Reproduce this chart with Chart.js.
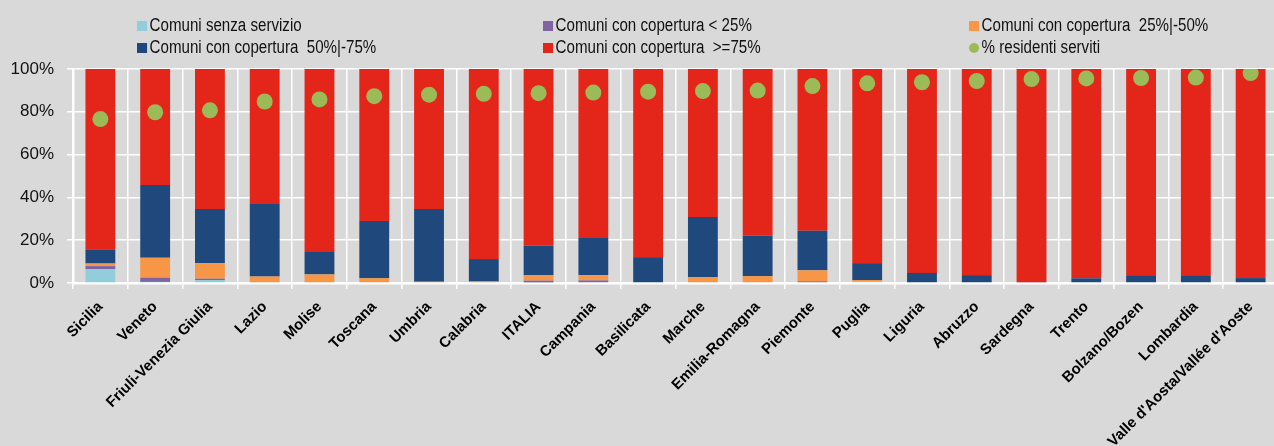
<!DOCTYPE html>
<html>
<head>
<meta charset="utf-8">
<script src="https://cdn.jsdelivr.net/npm/chart.js@4.4.1/dist/chart.umd.min.js"></script>
<style>
  html, body { margin: 0; padding: 0; background: #d9d9d9; overflow: hidden; }
  #wrap { position: relative; width: 1274px; height: 446px; overflow: hidden; }
  #chart { position: absolute; left: 0; top: 0; }
  .leg { position: absolute; font-family: "Liberation Sans", Arial, sans-serif; font-size: 18px; color: #111; white-space: pre; line-height: 20px; transform: scaleX(0.84); transform-origin: 0 0; }
  .leg span.box { display: inline-block; width: 12px; height: 10px; margin-right: 3px; vertical-align: 0px; }
  .leg span.dot { display: inline-block; width: 12px; height: 10px; border-radius: 50%; margin-right: 3px; vertical-align: 0px; }
</style>
</head>
<body>
<div id="wrap">
  <canvas id="chart" width="1286" height="446"></canvas>
</div>
<script>
const categories = ["Sicilia", "Veneto", "Friuli-Venezia Giulia", "Lazio", "Molise", "Toscana", "Umbria",
  "Calabria", "ITALIA", "Campania", "Basilicata", "Marche", "Emilia-Romagna", "Piemonte", "Puglia",
  "Liguria", "Abruzzo", "Sardegna", "Trento", "Bolzano/Bozen", "Lombardia", "Valle d'Aosta/Vallée d'Aoste"];

const senzaServizio = [6.4, 0.5, 1.4, 0, 0, 0, 0, 0, 0.3, 0, 0, 0, 0, 0, 0.6, 0, 0, 0, 0, 0, 0, 0];
const copLt25 = [1.5, 2.0, 0.6, 0, 0, 0, 0, 0, 0.8, 1.2, 0, 0, 0, 0.8, 0, 0, 0, 0, 0, 0, 0, 0];
const cop25_50 = [1.2, 9.3, 7.2, 3.0, 4.0, 2.2, 0.6, 0.7, 2.5, 2.5, 0, 2.8, 3.2, 5.1, 0.8, 0, 0, 0, 0, 0, 0, 0];
const cop50_75 = [6.6, 34.0, 25.4, 33.9, 10.5, 26.8, 34.0, 10.5, 13.8, 17.3, 12.1, 28.0, 18.9, 18.5, 7.9, 4.7, 3.7, 0.4, 2.2, 3.3, 3.3, 2.3];
const copGe75 = [84.3, 54.2, 65.4, 63.1, 85.5, 71.0, 65.4, 88.8, 82.6, 79.0, 87.9, 69.2, 77.9, 75.6, 90.7, 95.3, 96.3, 99.6, 97.8, 96.7, 96.7, 97.7];
const residentiServiti = [76.6, 79.8, 80.7, 84.8, 85.8, 87.3, 88.0, 88.4, 88.7, 89.0, 89.4, 89.7, 89.9, 92.0, 93.3, 93.8, 94.4, 95.3, 95.6, 95.8, 96.0, 98.1];

const yTicks = [0, 20, 40, 60, 80, 100];

const fontName = '"Liberation Sans", Arial, sans-serif';

function barSet(label, data, color) {
  return {
    type: 'bar',
    label: label,
    data: data,
    backgroundColor: color,
    borderWidth: 0,
    barPercentage: 0.545,
    categoryPercentage: 1,
    stack: 's',
    order: 1
  };
}

const datasets = [
  barSet("Comuni senza servizio", senzaServizio, '#92cddc'),
  barSet("Comuni con copertura < 25%", copLt25, '#8064a2'),
  barSet("Comuni con copertura  25%|-50%", cop25_50, '#f79646'),
  barSet("Comuni con copertura  50%|-75%", cop50_75, '#1f497d'),
  barSet("Comuni con copertura  >=75%", copGe75, '#e32619'),
  {
    type: 'line',
    label: "% residenti serviti",
    data: residentiServiti,
    showLine: false,
    pointRadius: 8,
    pointHoverRadius: 8,
    pointBackgroundColor: '#9bbb59',
    pointBorderWidth: 0,
    borderColor: '#9bbb59',
    backgroundColor: '#9bbb59',
    order: 0
  }
];

// legend as html, 3 columns x 2 rows
const legCols = [137, 543, 969];
const legRows = [15, 37];
const wrap = document.getElementById('wrap');
datasets.forEach((ds, i) => {
  const d = document.createElement('div');
  d.className = 'leg';
  d.style.left = legCols[i % 3] + 'px';
  d.style.top = legRows[Math.floor(i / 3)] + 'px';
  const mark = document.createElement('span');
  mark.className = ds.type === 'line' ? 'dot' : 'box';
  mark.style.background = ds.backgroundColor;
  d.appendChild(mark);
  d.appendChild(document.createTextNode(ds.label));
  wrap.appendChild(d);
});

const ctx = document.getElementById('chart').getContext('2d');
new Chart(ctx, {
  data: { labels: categories, datasets: datasets },
  options: {
    responsive: false,
    animation: false,
    layout: { padding: { top: 69, right: 0, left: 0, bottom: 0 } },
    plugins: { legend: { display: false }, tooltip: { enabled: false } },
    scales: {
      x: {
        stacked: true,
        grid: { color: '#ffffff', lineWidth: 1.5, tickLength: 6, offset: true },
        border: { color: '#ffffff', width: 2.5 },
        ticks: {
          color: '#000',
          font: { family: fontName, size: 15, weight: 'bold' },
          maxRotation: 45,
          minRotation: 45,
          autoSkip: false,
          padding: 9
        },
        afterFit(scale) { scale.height = 163; }
      },
      y: {
        stacked: true,
        min: 0,
        max: 100,
        afterBuildTicks(scale) { scale.ticks = yTicks.map(v => ({ value: v })); },
        grid: { color: '#ffffff', lineWidth: 1.5, tickLength: 6 },
        border: { color: '#ffffff', width: 2.5 },
        ticks: {
          color: '#111',
          font: { family: fontName, size: 17 },
          padding: 13,
          callback: v => v + '%'
        },
        afterFit(scale) { scale.width = 73; }
      }
    }
  }
});
</script>
</body>
</html>
